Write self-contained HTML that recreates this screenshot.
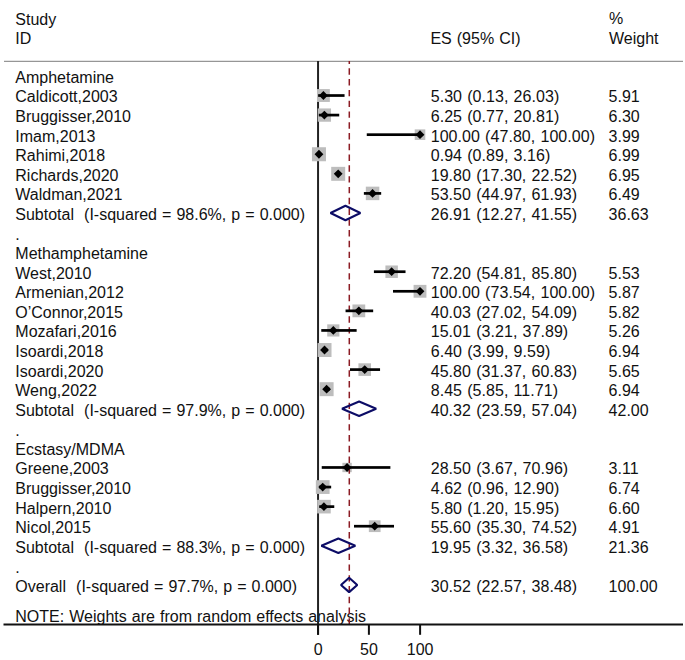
<!DOCTYPE html>
<html><head><meta charset="utf-8"><style>
html,body{margin:0;padding:0;background:#fff;}
body{width:685px;height:660px;overflow:hidden;}
svg{display:block;}
text{font-family:"Liberation Sans",sans-serif;font-size:16px;fill:#111;word-spacing:0.6px;}
.es{letter-spacing:0.06px;}
</style></head><body>
<svg width="685" height="660" viewBox="0 0 685 660">
<rect width="685" height="660" fill="#fff"/>
<g>
<text x="15.3" y="24.5">Study</text>
<text x="15.3" y="43.9">ID</text>
<text x="430.4" y="43.5">ES (95% CI)</text>
<text x="609.0" y="24.3">%</text>
<text x="609.0" y="43.5">Weight</text>
</g>
<line x1="4" y1="61.3" x2="683" y2="61.3" stroke="#969696" stroke-width="1.3"/>
<g>
<text x="15.3" y="82.84">Amphetamine</text>
<text x="15.3" y="102.42">Caldicott,2003</text>
<text class="es" x="430.7" y="102.42">5.30 (0.13, 26.03)</text>
<text x="608.6" y="102.42">5.91</text>
<text x="15.3" y="121.99">Bruggisser,2010</text>
<text class="es" x="430.7" y="121.99">6.25 (0.77, 20.81)</text>
<text x="608.6" y="121.99">6.30</text>
<text x="15.3" y="141.57">Imam,2013</text>
<text class="es" x="430.7" y="141.57">100.00 (47.80, 100.00)</text>
<text x="608.6" y="141.57">3.99</text>
<text x="15.3" y="161.15">Rahimi,2018</text>
<text class="es" x="430.7" y="161.15">0.94 (0.89, 3.16)</text>
<text x="608.6" y="161.15">6.99</text>
<text x="15.3" y="180.73">Richards,2020</text>
<text class="es" x="430.7" y="180.73">19.80 (17.30, 22.52)</text>
<text x="608.6" y="180.73">6.95</text>
<text x="15.3" y="200.3">Waldman,2021</text>
<text class="es" x="430.7" y="200.3">53.50 (44.97, 61.93)</text>
<text x="608.6" y="200.3">6.49</text>
<text x="15.3" y="219.88">Subtotal&#160;&#160;(I-squared = 98.6%, p = 0.000)</text>
<text class="es" x="430.7" y="219.88">26.91 (12.27, 41.55)</text>
<text x="608.6" y="219.88">36.63</text>
<text x="15.3" y="240.36">.</text>
<text x="15.3" y="259.03">Methamphetamine</text>
<text x="15.3" y="278.61">West,2010</text>
<text class="es" x="430.7" y="278.61">72.20 (54.81, 85.80)</text>
<text x="608.6" y="278.61">5.53</text>
<text x="15.3" y="298.19">Armenian,2012</text>
<text class="es" x="430.7" y="298.19">100.00 (73.54, 100.00)</text>
<text x="608.6" y="298.19">5.87</text>
<text x="15.3" y="317.76">O&#8217;Connor,2015</text>
<text class="es" x="430.7" y="317.76">40.03 (27.02, 54.09)</text>
<text x="608.6" y="317.76">5.82</text>
<text x="15.3" y="337.34">Mozafari,2016</text>
<text class="es" x="430.7" y="337.34">15.01 (3.21, 37.89)</text>
<text x="608.6" y="337.34">5.26</text>
<text x="15.3" y="356.92">Isoardi,2018</text>
<text class="es" x="430.7" y="356.92">6.40 (3.99, 9.59)</text>
<text x="608.6" y="356.92">6.94</text>
<text x="15.3" y="376.5">Isoardi,2020</text>
<text class="es" x="430.7" y="376.5">45.80 (31.37, 60.83)</text>
<text x="608.6" y="376.5">5.65</text>
<text x="15.3" y="396.07">Weng,2022</text>
<text class="es" x="430.7" y="396.07">8.45 (5.85, 11.71)</text>
<text x="608.6" y="396.07">6.94</text>
<text x="15.3" y="415.65">Subtotal&#160;&#160;(I-squared = 97.9%, p = 0.000)</text>
<text class="es" x="430.7" y="415.65">40.32 (23.59, 57.04)</text>
<text x="608.6" y="415.65">42.00</text>
<text x="15.3" y="436.13">.</text>
<text x="15.3" y="454.8">Ecstasy/MDMA</text>
<text x="15.3" y="474.38">Greene,2003</text>
<text class="es" x="430.7" y="474.38">28.50 (3.67, 70.96)</text>
<text x="608.6" y="474.38">3.11</text>
<text x="15.3" y="493.96">Bruggisser,2010</text>
<text class="es" x="430.7" y="493.96">4.62 (0.96, 12.90)</text>
<text x="608.6" y="493.96">6.74</text>
<text x="15.3" y="513.53">Halpern,2010</text>
<text class="es" x="430.7" y="513.53">5.80 (1.20, 15.95)</text>
<text x="608.6" y="513.53">6.60</text>
<text x="15.3" y="533.11">Nicol,2015</text>
<text class="es" x="430.7" y="533.11">55.60 (35.30, 74.52)</text>
<text x="608.6" y="533.11">4.91</text>
<text x="15.3" y="552.69">Subtotal&#160;&#160;(I-squared = 88.3%, p = 0.000)</text>
<text class="es" x="430.7" y="552.69">19.95 (3.32, 36.58)</text>
<text x="608.6" y="552.69">21.36</text>
<text x="15.3" y="573.17">.</text>
<text x="15.3" y="591.84">Overall&#160;&#160;(I-squared = 97.7%, p = 0.000)</text>
<text class="es" x="430.7" y="591.84">30.52 (22.57, 38.48)</text>
<text x="608.6" y="591.84">100.00</text>
<text x="15.3" y="621.6">NOTE: Weights are from random effects analysis</text>
</g>
<line x1="318.05" y1="61" x2="318.05" y2="634.8" stroke="#222" stroke-width="2"/>
<g fill="#bdbdbd">
<rect x="316.96" y="89.07" width="12.88" height="12.88"/>
<rect x="317.72" y="108.44" width="13.3" height="13.3"/>
<rect x="414.71" y="129.38" width="10.59" height="10.59"/>
<rect x="311.95" y="147.24" width="14.01" height="14.01"/>
<rect x="331.21" y="166.84" width="13.97" height="13.97"/>
<rect x="365.82" y="186.65" width="13.5" height="13.5"/>
<rect x="385.41" y="265.48" width="12.46" height="12.46"/>
<rect x="413.58" y="284.87" width="12.84" height="12.84"/>
<rect x="352.44" y="304.47" width="12.79" height="12.79"/>
<rect x="327.23" y="324.36" width="12.16" height="12.16"/>
<rect x="317.55" y="343.04" width="13.96" height="13.96"/>
<rect x="358.42" y="363.3" width="12.6" height="12.6"/>
<rect x="319.64" y="382.19" width="13.96" height="13.96"/>
<rect x="342.4" y="462.81" width="9.35" height="9.35"/>
<rect x="315.83" y="480.18" width="13.76" height="13.76"/>
<rect x="317.11" y="499.83" width="13.62" height="13.62"/>
<rect x="368.84" y="520.34" width="11.74" height="11.74"/>
</g>
<line x1="349.3" y1="61" x2="349.3" y2="624" stroke="#8c1c24" stroke-width="1.5" stroke-dasharray="6.4 4.385" stroke-dashoffset="3.48"/>
<g fill="#000">
<rect x="318.13" y="94.17" width="26.42" height="2.7"/>
<rect x="318.79" y="113.74" width="20.44" height="2.7"/>
<rect x="366.76" y="133.32" width="53.24" height="2.7"/>
<rect x="318.91" y="152.9" width="2.32" height="2.7"/>
<rect x="335.65" y="172.48" width="5.32" height="2.7"/>
<rect x="363.87" y="192.05" width="17.3" height="2.7"/>
<rect x="373.91" y="270.36" width="31.61" height="2.7"/>
<rect x="393.01" y="289.94" width="26.99" height="2.7"/>
<rect x="345.56" y="309.51" width="27.61" height="2.7"/>
<rect x="321.27" y="329.09" width="35.37" height="2.7"/>
<rect x="322.07" y="348.67" width="5.71" height="2.7"/>
<rect x="350" y="368.25" width="30.05" height="2.7"/>
<rect x="323.97" y="387.82" width="5.98" height="2.7"/>
<rect x="321.74" y="466.13" width="68.64" height="2.7"/>
<rect x="318.98" y="485.71" width="12.18" height="2.7"/>
<rect x="319.22" y="505.28" width="15.05" height="2.7"/>
<rect x="354.01" y="524.86" width="40" height="2.7"/>
<path d="M319.01 95.52L323.41 91.12L327.81 95.52L323.41 99.92Z"/>
<path d="M319.98 115.09L324.38 110.69L328.77 115.09L324.38 119.49Z"/>
<path d="M415.6 134.67L420 130.27L424.4 134.67L420 139.07Z"/>
<path d="M314.56 154.25L318.96 149.85L323.36 154.25L318.96 158.65Z"/>
<path d="M333.8 173.83L338.2 169.43L342.6 173.83L338.2 178.23Z"/>
<path d="M368.17 193.4L372.57 189L376.97 193.4L372.57 197.8Z"/>
<path d="M387.24 271.71L391.64 267.31L396.04 271.71L391.64 276.11Z"/>
<path d="M415.6 291.29L420 286.89L424.4 291.29L420 295.69Z"/>
<path d="M354.43 310.86L358.83 306.46L363.23 310.86L358.83 315.26Z"/>
<path d="M328.91 330.44L333.31 326.04L337.71 330.44L333.31 334.84Z"/>
<path d="M320.13 350.02L324.53 345.62L328.93 350.02L324.53 354.42Z"/>
<path d="M360.32 369.6L364.72 365.2L369.12 369.6L364.72 374Z"/>
<path d="M322.22 389.17L326.62 384.77L331.02 389.17L326.62 393.57Z"/>
<path d="M342.67 467.48L347.07 463.08L351.47 467.48L347.07 471.88Z"/>
<path d="M318.31 487.06L322.71 482.66L327.11 487.06L322.71 491.46Z"/>
<path d="M319.52 506.63L323.92 502.23L328.32 506.63L323.92 511.03Z"/>
<path d="M370.31 526.21L374.71 521.81L379.11 526.21L374.71 530.61Z"/>
</g>
<g fill="none" stroke="#0c0c66" stroke-width="2.1" stroke-linejoin="bevel">
<path d="M330.52 212.98L345.45 205.78L360.38 212.98L345.45 220.18Z"/>
<path d="M342.06 408.75L359.13 401.55L376.18 408.75L359.13 415.95Z"/>
<path d="M321.39 545.79L338.35 538.59L355.31 545.79L338.35 552.99Z"/>
<path d="M341.02 584.94L349.13 577.74L357.25 584.94L349.13 592.14Z"/>
</g>
<line x1="3.5" y1="624.5" x2="683" y2="624.5" stroke="#111" stroke-width="2"/>
<g stroke="#111" stroke-width="2">
<line x1="318.05" y1="624" x2="318.05" y2="634.8"/>
<line x1="368.9" y1="624" x2="368.9" y2="634.8"/>
<line x1="420.1" y1="624" x2="420.1" y2="634.8"/>
</g>
<g text-anchor="middle">
<text x="318.1" y="655">0</text>
<text x="368.9" y="655">50</text>
<text x="420.1" y="655">100</text>
</g>
</svg>
</body></html>
